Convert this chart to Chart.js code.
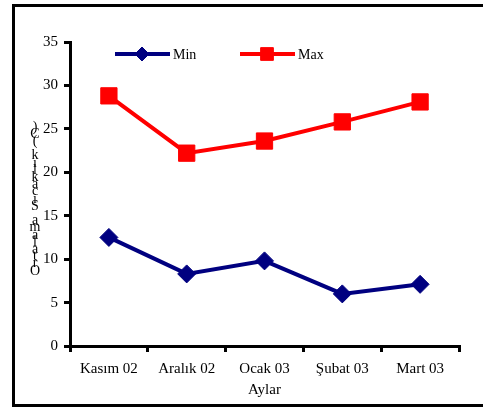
<!DOCTYPE html>
<html>
<head>
<meta charset="utf-8">
<script src="https://cdn.jsdelivr.net/npm/chart.js@4/dist/chart.umd.min.js"></script>
<style>
    html, body { margin: 0; padding: 0; background: #fff; }
    #wrap { width: 483px; height: 408px; position: relative; }
</style>
</head>
<body>
<div id="wrap"><canvas id="chart"></canvas></div>
<script>
// --- Data ---
const months = ['Kasım 02', 'Aralık 02', 'Ocak 03', 'Şubat 03', 'Mart 03'];
const minTemps = [12.5, 8.3, 9.8, 6.0, 7.1];
const maxTemps = [28.8, 22.2, 23.6, 25.8, 28.1];
const yTicks = [0, 5, 10, 15, 20, 25, 30, 35];
const xTitle = 'Aylar';
const yTitle = 'Ortalama Sıcaklık (C)';

const serif = "'Liberation Serif', 'DejaVu Serif', serif";

// outer frame, legend and the stacked y title
const decorations = {
    id: 'decorations',
    beforeDraw(chart) {
        const ctx = chart.ctx;
        ctx.save();
        ctx.strokeStyle = '#000';
        ctx.lineWidth = 3;
        ctx.beginPath();
        ctx.moveTo(483, 5.5);
        ctx.lineTo(13.5, 5.5);
        ctx.lineTo(13.5, 405.5);
        ctx.lineTo(483, 405.5);
        ctx.stroke();
        ctx.restore();
    },
    afterDraw(chart) {
        const ctx = chart.ctx;
        ctx.save();
        // legend
        const items = [
            { x: 115, ds: chart.data.datasets[0], style: 'rectRot', r: 7 },
            { x: 240, ds: chart.data.datasets[1], style: 'rect', r: 9 }
        ];
        const ly = 54;
        items.forEach(it => {
            ctx.strokeStyle = it.ds.borderColor;
            ctx.lineWidth = 4;
            ctx.beginPath();
            ctx.moveTo(it.x, ly);
            ctx.lineTo(it.x + 55, ly);
            ctx.stroke();
            ctx.fillStyle = it.ds.borderColor;
            ctx.strokeStyle = it.ds.borderColor;
            ctx.lineWidth = 1;
            Chart.helpers.drawPoint(ctx, { pointStyle: it.style, radius: it.r, borderWidth: 1 }, it.x + 27, ly);
            ctx.fillStyle = '#000';
            ctx.font = '14px ' + serif;
            ctx.textBaseline = 'middle';
            ctx.textAlign = 'left';
            ctx.fillText(it.ds.label, it.x + 58, ly + 1);
        });
        // y title: characters stacked bottom to top
        ctx.font = '14px ' + serif;
        ctx.textAlign = 'center';
        ctx.textBaseline = 'middle';
        ctx.fillStyle = '#000';
        const chars = Array.from(yTitle);
        const step = 7.2;
        chars.forEach((c, i) => {
            ctx.fillText(c, 35, 271 - i * step);
        });
        ctx.restore();
    }
};

new Chart(document.getElementById('chart'), {
    type: 'line',
    data: {
        labels: months,
        datasets: [
            {
                label: 'Min',
                data: minTemps,
                borderColor: '#000080',
                backgroundColor: '#000080',
                borderWidth: 4,
                pointStyle: 'rectRot',
                pointRadius: 9,
                pointBorderWidth: 1,
                tension: 0
            },
            {
                label: 'Max',
                data: maxTemps,
                borderColor: '#ff0000',
                backgroundColor: '#ff0000',
                borderWidth: 4,
                pointStyle: 'rect',
                pointRadius: 11.5,
                pointBorderWidth: 1,
                tension: 0
            }
        ]
    },
    options: {
        responsive: true,
        maintainAspectRatio: false,
        animation: false,
        layout: { padding: { left: 0, top: 42, right: 24, bottom: 0 } },
        plugins: {
            legend: { display: false },
            tooltip: { enabled: false }
        },
        scales: {
            x: {
                offset: true,
                afterFit: s => { s.height = 62; },
                grid: {
                    offset: true,
                    drawOnChartArea: false,
                    color: '#000',
                    lineWidth: 3,
                    tickLength: 6
                },
                border: { color: '#000', width: 3 },
                ticks: {
                    color: '#000',
                    font: { family: serif, size: 15 },
                    padding: 8,
                    maxRotation: 0,
                    autoSkip: false
                },
                title: {
                    display: true,
                    text: xTitle,
                    color: '#000',
                    font: { family: serif, size: 15 },
                    padding: { top: 0, bottom: 9 }
                }
            },
            y: {
                min: 0,
                max: 35,
                afterFit: s => { s.width = 70; },
                afterBuildTicks: s => { s.ticks = yTicks.map(v => ({ value: v })); },
                grid: {
                    drawOnChartArea: false,
                    color: '#000',
                    lineWidth: 3,
                    tickLength: 6
                },
                border: { color: '#000', width: 3 },
                ticks: {
                    color: '#000',
                    font: { family: serif, size: 15 },
                    padding: 6
                }
            }
        }
    },
    plugins: [decorations]
});
</script>
</body>
</html>
